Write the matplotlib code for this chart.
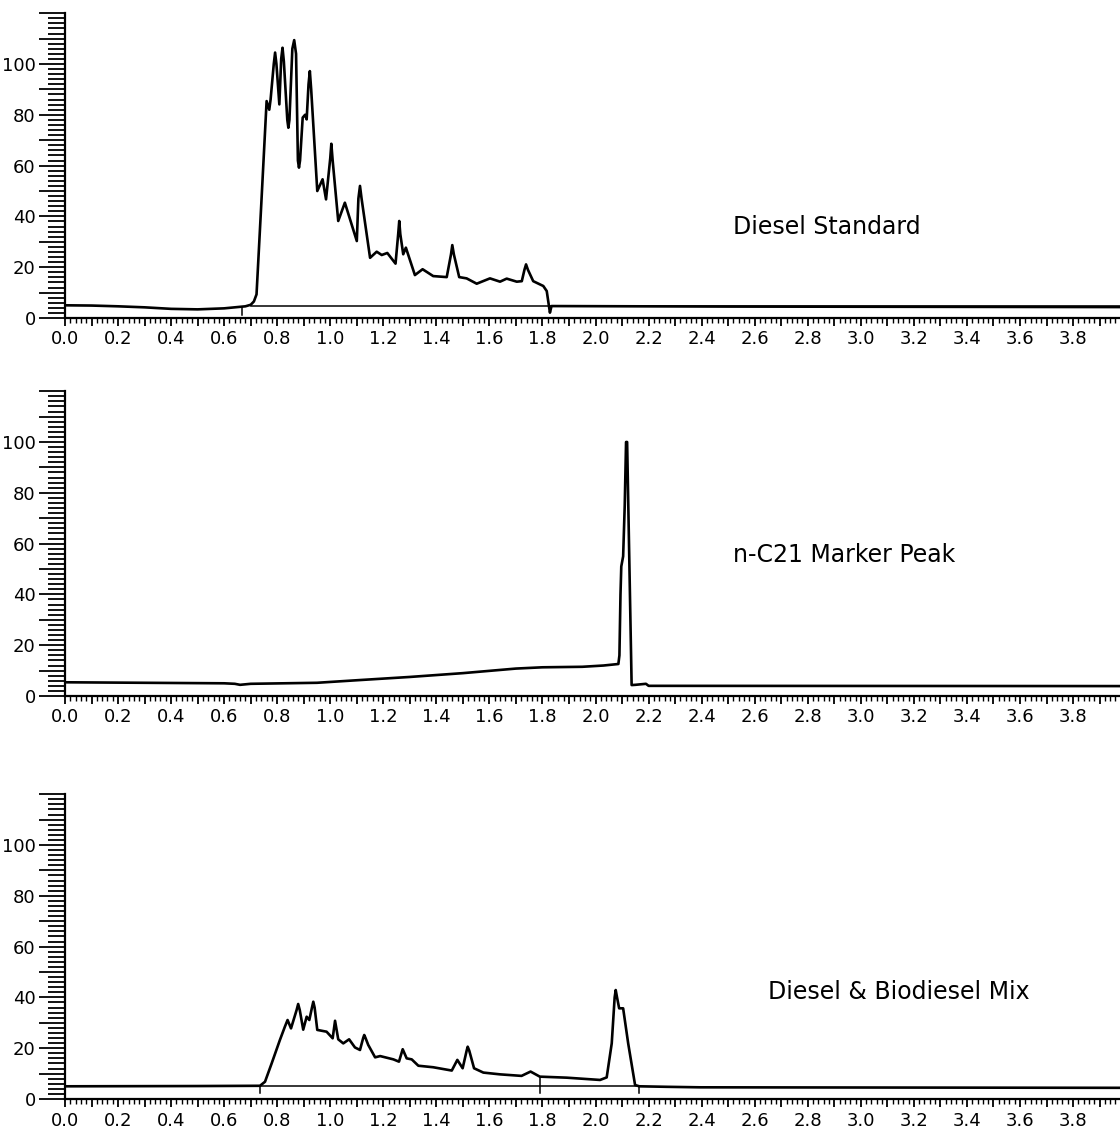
import matplotlib
matplotlib.use("Agg")
import matplotlib.pyplot as plt
from matplotlib.ticker import MultipleLocator, FuncFormatter

# --- data (retention time in min, signal) ---

# Diesel Standard
diesel_x = [0.00, 0.10, 0.20, 0.30, 0.40, 0.50, 0.60, 0.68, 0.700, 0.712, 0.722, 0.740, 0.760,
            0.770, 0.775, 0.787, 0.792, 0.797, 0.808, 0.815, 0.820, 0.825, 0.838, 0.842, 0.846,
            0.857, 0.864, 0.871, 0.878, 0.882, 0.886, 0.896, 0.905, 0.911, 0.918, 0.923, 0.928,
            0.951, 0.971, 0.984, 1.000, 1.004, 1.009, 1.030, 1.055, 1.100, 1.106, 1.112, 1.118,
            1.150, 1.175, 1.194, 1.215, 1.246, 1.256, 1.260, 1.264, 1.275, 1.285, 1.319, 1.348,
            1.388, 1.439, 1.455, 1.460, 1.466, 1.486, 1.514, 1.552, 1.602, 1.640, 1.665, 1.703,
            1.722, 1.732, 1.738, 1.745, 1.765, 1.803, 1.816, 1.828, 1.834, 2.50, 3.98]
diesel_y = [5.0, 4.9, 4.6, 4.2, 3.6, 3.4, 3.8, 4.6, 5.2, 6.5, 9.3, 45.0, 85.4,
            82.0, 86.0, 100.0, 104.5, 100.0, 84.1, 102.0, 106.4, 101.0, 78.0, 74.9, 78.0,
            106.0, 109.4, 104.0, 62.0, 59.2, 62.0, 78.9, 80.0, 78.2, 92.0, 97.2, 90.0,
            50.0, 54.6, 46.7, 63.0, 68.6, 62.0, 38.2, 45.4, 30.3, 47.0, 52.0, 47.0,
            23.7, 26.1, 24.8, 25.6, 21.4, 33.0, 38.2, 33.0, 25.1, 27.7, 16.9, 19.2,
            16.5, 16.1, 25.0, 28.7, 25.0, 16.1, 15.6, 13.5, 15.6, 14.3, 15.5, 14.3,
            14.5, 19.0, 21.1, 19.0, 14.5, 12.6, 10.6, 2.1, 4.7, 4.5, 4.3]
diesel_base_x = [0.70, 3.98]
diesel_base_y = [4.7, 4.7]
diesel_marks = [0.666]

# n-C21 marker
c21_x = [0.00, 0.30, 0.60, 0.64, 0.66, 0.70, 0.95, 1.10, 1.30, 1.50, 1.70, 1.80, 1.95,
         2.03, 2.086, 2.090, 2.094, 2.097, 2.104, 2.110, 2.115, 2.119, 2.136, 2.150,
         2.190, 2.200, 3.98]
c21_y = [5.4, 5.2, 5.0, 4.8, 4.4, 4.8, 5.2, 6.2, 7.5, 9.0, 10.8, 11.3, 11.5,
         12.0, 12.6, 16.0, 40.0, 51.0, 55.0, 75.0, 100.0, 100.0, 4.3, 4.4,
         4.8, 4.0, 3.9]

# Diesel & Biodiesel mix
mix_x = [0.00, 0.50, 0.735, 0.754, 0.779, 0.810, 0.829, 0.839, 0.852, 0.873, 0.879, 0.885,
         0.898, 0.911, 0.921, 0.931, 0.936, 0.941, 0.951, 0.986, 1.009, 1.018, 1.030, 1.049,
         1.071, 1.093, 1.112, 1.124, 1.128, 1.133, 1.143, 1.169, 1.188, 1.238, 1.259, 1.273,
         1.288, 1.307, 1.332, 1.388, 1.458, 1.479, 1.499, 1.514, 1.518, 1.524, 1.542, 1.577,
         1.640, 1.721, 1.755, 1.790, 1.891, 2.017, 2.042, 2.061, 2.072, 2.076, 2.081, 2.089,
         2.104, 2.123, 2.149, 2.165, 2.268, 2.394, 3.98]
mix_y = [5.0, 5.1, 5.2, 6.8, 14.0, 23.2, 28.5, 31.1, 27.8, 35.0, 37.4, 35.0,
         27.3, 32.4, 31.1, 36.0, 38.3, 36.0, 27.2, 26.5, 23.9, 30.8, 23.5, 21.9,
         23.5, 20.3, 19.3, 24.0, 25.2, 24.0, 21.3, 16.4, 16.9, 15.6, 14.7, 19.6,
         16.0, 15.6, 13.1, 12.5, 11.2, 15.4, 12.1, 19.0, 20.6, 19.0, 12.1, 10.4,
         9.7, 9.1, 10.8, 8.8, 8.4, 7.5, 8.5, 21.9, 40.0, 42.9, 40.0, 35.7,
         35.7, 21.9, 5.5, 5.0, 4.8, 4.6, 4.4]
mix_marks = [0.735, 1.790, 2.165]
mix_mark_tops = [5.2, 8.8, 5.2]
mix_base_x = [0.735, 2.165]
mix_base_y = [5.2, 5.2]

labels = ["Diesel Standard", "n-C21 Marker Peak", "Diesel & Biodiesel Mix"]
label_pos = [(2.52, 35.8), (2.52, 55.5), (2.65, 42.0)]

X_MAX = 3.977
Y_MAX = 120


def style_axis(ax):
    ax.set_xlim(0, X_MAX)
    ax.set_ylim(0, Y_MAX)
    for side in ["top", "right"]:
        ax.spines[side].set_visible(False)
    for side in ["left", "bottom"]:
        ax.spines[side].set_linewidth(1.6)

    # major ticks every 0.1 min, labels every 0.2
    ax.xaxis.set_major_locator(MultipleLocator(0.1))
    ax.xaxis.set_minor_locator(MultipleLocator(0.02))
    ax.xaxis.set_major_formatter(FuncFormatter(
        lambda v, p: f"{v:.1f}" if round(v * 10) % 2 == 0 and v < 3.9 else ""))
    ax.yaxis.set_major_locator(MultipleLocator(10))
    ax.yaxis.set_minor_locator(MultipleLocator(2))
    ax.yaxis.set_major_formatter(FuncFormatter(
        lambda v, p: f"{v:.0f}" if round(v) % 20 == 0 and v < 115 else ""))

    ax.tick_params(axis="x", which="major", length=6, width=1.3, labelsize=13, pad=3)
    ax.tick_params(axis="x", which="minor", length=3.5, width=1.0)
    ax.tick_params(axis="y", which="major", length=19, width=1.3, labelsize=13, pad=2)
    ax.tick_params(axis="y", which="minor", length=12, width=1.3)


def draw_trace(ax, x, y, base_x=None, base_y=None):
    if base_x is not None:
        ax.plot(base_x, base_y, color="black", lw=1.1)
    ax.plot(x, y, color="black", lw=1.9, solid_joinstyle="round")


def draw_marks(ax, marks, tops, bottom=2.0):
    for m, top in zip(marks, tops):
        ax.plot([m, m], [bottom, top], color="black", lw=1.1)


def main():
    plt.rcParams["font.family"] = ["DejaVu Sans"]
    fig = plt.figure(figsize=(11.2, 11.31), dpi=100)

    # panel bottoms in figure coordinates (x-axis lines at 318, 696, 1099 px)
    h = Y_MAX * 2.54 / 1131
    bottoms = [(1131 - 318) / 1131, (1131 - 696) / 1131, (1131 - 1099) / 1131]
    axes = [fig.add_axes([65 / 1120, b, 1 - 65 / 1120, h]) for b in bottoms]

    for ax in axes:
        style_axis(ax)

    draw_trace(axes[0], diesel_x, diesel_y, diesel_base_x, diesel_base_y)
    draw_marks(axes[0], diesel_marks, [4.2], bottom=1.0)
    draw_trace(axes[1], c21_x, c21_y)
    draw_trace(axes[2], mix_x, mix_y, mix_base_x, mix_base_y)
    draw_marks(axes[2], mix_marks, mix_mark_tops, bottom=2.2)

    for ax, text, (tx, ty) in zip(axes, labels, label_pos):
        ax.text(tx, ty, text, fontsize=17, va="center", ha="left")

    fig.savefig("out.png", dpi=100)
    plt.close(fig)


if __name__ == "__main__":
    main()
